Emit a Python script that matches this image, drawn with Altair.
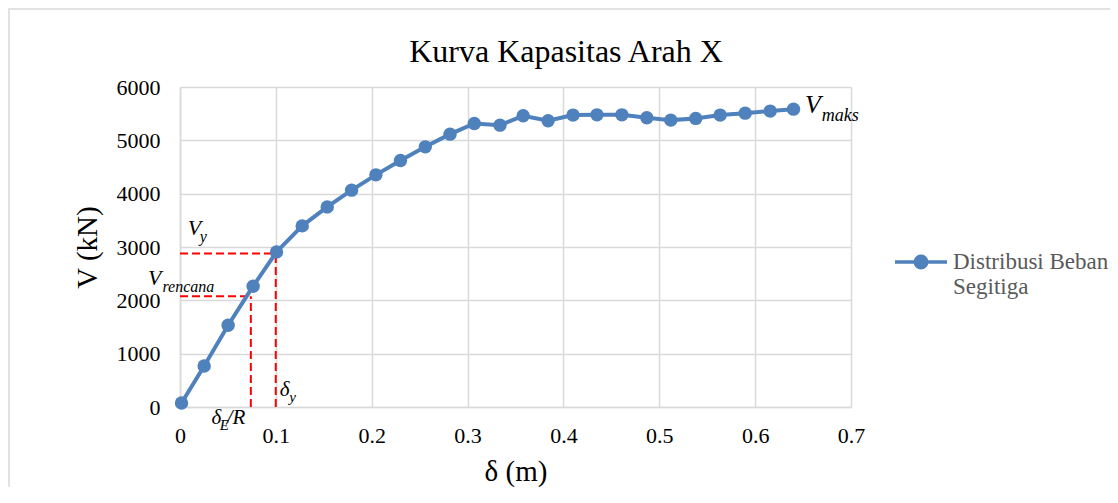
import altair as alt
import pandas as pd

# ---- data ----
delta_m = [0.0016, 0.0252, 0.0502, 0.0763, 0.1007, 0.1275, 0.1536, 0.179, 0.2044,
           0.230, 0.2559, 0.2817, 0.307, 0.3338, 0.358, 0.384, 0.410, 0.435, 0.461,
           0.487, 0.512, 0.538, 0.5635, 0.5896, 0.6157, 0.640]
V_kN = [75, 769, 1533, 2265, 2908, 3396, 3752, 4066, 4353, 4623, 4878, 5116, 5317,
        5285, 5460, 5366, 5473, 5478, 5478, 5422, 5379, 5411, 5473, 5510, 5548, 5585]
series_name = "Distribusi Beban Segitiga"
chart_title = "Kurva Kapasitas Arah X"

# reference dashed lines (Vy / delta_y and Vrencana / delta_E/R)
ref_x = [0, 0.0999, 0, 0.0739]
ref_x2 = [0.0999, 0.0999, 0.0689, 0.0739]
ref_y = [2878, 0, 2077, 0]
ref_y2 = [2878, 2878, 2077, 2077]

# annotation pieces (main letters and subscripts)
ann_text = ["V", "y", "V", "rencana", "δ", "y", "δ", "E", "/R", "V", "maks"]
ann_x = [0.008, 0.0206, -0.0333, -0.0183, 0.104, 0.114, 0.0329, 0.0415, 0.0488, 0.652, 0.6696]
ann_y = [3221, 3096, 2283, 2158, 210, 94, -312, -437, -312, 5505, 5366]
ann_size = [22, 16, 22, 16, 21, 15, 21, 15, 21, 26, 18]

x_ticks = [0, 0.1, 0.2, 0.3, 0.4, 0.5, 0.6, 0.7]
y_ticks = [0, 1000, 2000, 3000, 4000, 5000, 6000]

BLUE = "#4F81BD"
FONT = "Liberation Serif"

df = pd.DataFrame({"delta": delta_m, "V": V_kN, "series": series_name})
ref_df = pd.DataFrame({"x": ref_x, "x2": ref_x2, "y": ref_y, "y2": ref_y2})
ann_df = pd.DataFrame({"t": ann_text, "x": ann_x, "y": ann_y, "s": ann_size})

xscale = alt.Scale(domain=[0, 0.7], nice=False, zero=False)
yscale = alt.Scale(domain=[0, 6000], nice=False)

base_x = alt.X("delta:Q", scale=xscale,
               axis=alt.Axis(values=x_ticks, format=".1~f", title="δ (m)",
                             labelFont=FONT, labelFlush=False,
                             titleY=73, titleBaseline="alphabetic"))
base_y = alt.Y("V:Q", scale=yscale,
               axis=alt.Axis(values=y_ticks, format="d", title="V (kN)",
                             labelFont=FONT, labelFlush=False,
                             titleX=-84, titleY=160, titleBaseline="alphabetic"))

border = alt.Chart(alt.Data(values=[{}])).mark_rect(
    fill="transparent", stroke="#D9D9D9", strokeWidth=1.5, clip=False
).encode(x=alt.value(-171), y=alt.value(-78), x2=alt.value(1300), y2=alt.value(700))

title = alt.Chart(alt.Data(values=[{"t": chart_title}])).mark_text(
    font=FONT, fontSize=32, color="#000000", align="center", baseline="alphabetic",
    clip=False
).encode(text="t:N", x=alt.value(386), y=alt.value(-25))

refs = alt.Chart(ref_df).mark_rule(
    color="#FF0000", strokeDash=[8, 4], strokeWidth=2
).encode(x=alt.X("x:Q", scale=xscale), x2="x2:Q",
         y=alt.Y("y:Q", scale=yscale), y2="y2:Q")

line = alt.Chart(df).mark_line(
    strokeWidth=4,
    point=alt.OverlayMarkDef(size=180, filled=True, opacity=1),
).encode(
    x=base_x, y=base_y,
    color=alt.Color("series:N",
                    scale=alt.Scale(domain=[series_name], range=[BLUE]),
                    legend=alt.Legend(
                        title=None, orient="none", legendX=713, legendY=147,
                        symbolType="M-1,0L1,0M0.22,0A0.22,0.22,0,1,1,-0.22,0A0.22,0.22,0,1,1,0.22,0Z",
                        symbolSize=2700, symbolStrokeWidth=3.5,
                        symbolFillColor=BLUE, symbolStrokeColor=BLUE, symbolOpacity=1,
                        labelExpr="['Distribusi Beban', 'Segitiga']",
                        labelFont=FONT, labelFontSize=23, labelColor="#595959",
                        labelOffset=4, labelBaseline="middle", labelLimit=400,
                    )),
)

ann = alt.Chart(ann_df).mark_text(
    align="left", baseline="alphabetic", font=FONT, fontStyle="italic",
    color="#000000", clip=False
).encode(x=alt.X("x:Q", scale=xscale), y=alt.Y("y:Q", scale=yscale),
         text="t:N", size=alt.Size("s:Q", scale=None, legend=None))

chart = alt.layer(border, title, refs, line, ann).properties(
    width=671, height=320,
    autosize=alt.AutoSizeParams(type="none"),
    padding={"left": 172, "top": 79, "right": 259, "bottom": 80},
).configure_view(stroke=None).configure_axis(
    grid=True, gridColor="#D9D9D9", gridWidth=1.5,
    domainColor="#D9D9D9", domainWidth=1.5, ticks=False,
    labelFont=FONT, labelFontSize=22, labelColor="#000000",
    titleFont=FONT, titleFontSize=29, titleFontWeight="normal", titleColor="#000000",
).configure_axisX(labelPadding=18).configure_axisY(labelPadding=20)

chart.save("out.html", embed_options={"renderer": "svg", "actions": False})
